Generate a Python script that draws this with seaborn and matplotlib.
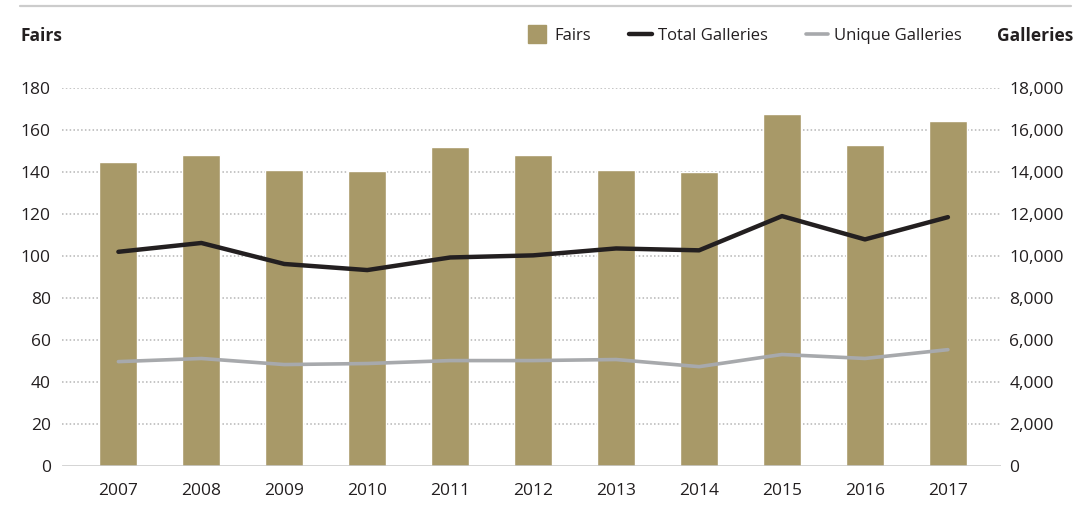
import numpy as np
import pandas as pd
import matplotlib
matplotlib.use("Agg")
import matplotlib.pyplot as plt
import seaborn as sns
from matplotlib.lines import Line2D

years = ["2007", "2008", "2009", "2010", "2011", "2012", "2013", "2014", "2015", "2016", "2017"]
fairs = [144.8, 148.2, 141, 140.5, 151.7, 148.2, 141, 140, 167.8, 152.8, 164.5]
total_galleries = [10200, 10620, 9620, 9330, 9930, 10030, 10360, 10270, 11900, 10790, 11850]
unique_galleries = [4970, 5120, 4830, 4880, 5020, 5020, 5070, 4730, 5310, 5120, 5540]
left_ticks = [0, 20, 40, 60, 80, 100, 120, 140, 160, 180]
right_ticks = [0, 2000, 4000, 6000, 8000, 10000, 12000, 14000, 16000, 18000]

BAR = "#a89968"
DARK = "#231f20"
GREY = "#a7a9ac"
TXT = "#231f20"

sns.set_theme(style="white")
plt.rcParams["font.family"] = ["Open Sans", "DejaVu Sans"]
plt.rcParams["font.size"] = 12

df = pd.DataFrame({"year": years, "fairs": fairs,
                   "total": total_galleries, "unique": unique_galleries,
                   "pos": np.arange(len(years))})

fig = plt.figure(figsize=(10.88, 5.31), dpi=100)
ax = fig.add_axes([62/1088, 65/531, (1001-62)/1088, (466-88)/531])

sns.barplot(data=df, x="year", y="fairs", color=BAR, width=0.46, saturation=1,
            ax=ax, zorder=3)
ax.set_xlim(-0.68, 10.64)
ax.set_ylim(0, 180)
ax.set_yticks(left_ticks)
ax.set_yticklabels([str(v) for v in left_ticks])
for v in left_ticks[1:]:
    ax.axhline(v, color="#b5b5b5", lw=1.1, ls=(0, (1, 1.5)), zorder=1)
ax.axhline(0, color="#c8c8c8", lw=1.8, zorder=4)
ax.set_xlabel("")
ax.set_ylabel("")
for s in ax.spines.values():
    s.set_visible(False)
ax.tick_params(axis="y", length=0, pad=8, labelsize=12.5, labelcolor=TXT)
ax.tick_params(axis="x", length=0, pad=12, labelsize=12.5, labelcolor=TXT)

ax2 = ax.twinx()
sns.lineplot(data=df, x="pos", y="total", color=DARK, lw=3.2, ax=ax2, zorder=5)
sns.lineplot(data=df, x="pos", y="unique", color=GREY, lw=2.6, ax=ax2, zorder=5)
ax2.set_ylim(0, 18000)
ax2.set_yticks(right_ticks)
ax2.set_yticklabels([f"{v:,}" for v in right_ticks])
ax2.set_xlim(-0.68, 10.64)
ax2.set_xlabel("")
ax2.set_ylabel("")
for s in ax2.spines.values():
    s.set_visible(False)
ax2.tick_params(axis="y", length=0, pad=6, labelsize=12.5, labelcolor=TXT)
ax2.grid(False)

# top rule
fig.add_artist(Line2D([20/1088, 1071/1088], [1 - 5.5/531] * 2, color="#cccccc", lw=1.6,
                      transform=fig.transFigure))

ty = 1 - 36/531
fig.text(20/1088, ty, "Fairs", weight="bold", fontsize=12.5, color=TXT, va="center", ha="left")
fig.text(1073/1088, ty, "Galleries", weight="bold", fontsize=12.5, color=TXT, va="center", ha="right")

handles = [
    Line2D([], [], marker="s", ls="", color=BAR, markersize=13),
    Line2D([], [], color=DARK, lw=3.2),
    Line2D([], [], color=GREY, lw=2.6),
]
fig.legend(handles, ["Fairs", "Total Galleries", "Unique Galleries"], ncol=3,
           loc="center right", bbox_to_anchor=(962/1088, ty), frameon=False,
           fontsize=12, handlelength=1.35, handletextpad=0.35, columnspacing=2.3,
           borderpad=0, borderaxespad=0, labelcolor=TXT)

fig.savefig("out.png", dpi=100)
